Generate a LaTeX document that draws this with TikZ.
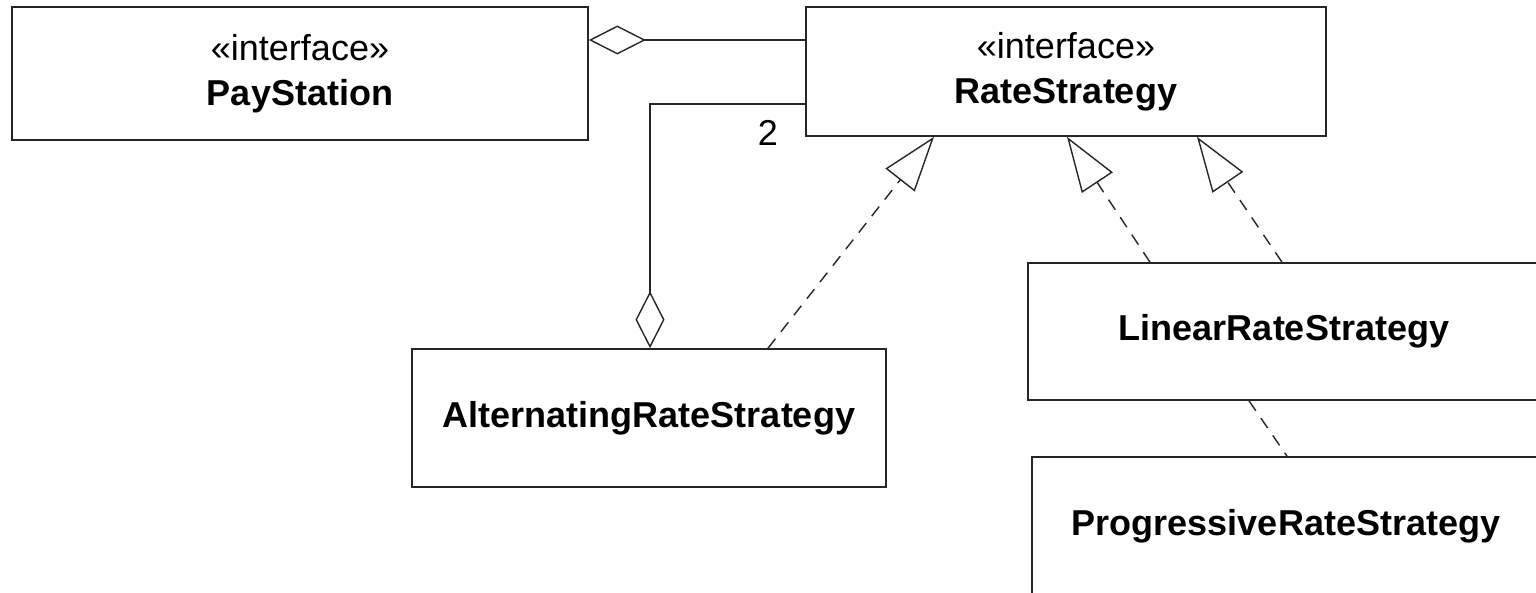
\documentclass[tikz,border=0pt]{standalone}
\usepackage{fontspec}
\setmainfont{Liberation Sans}
\usetikzlibrary{arrows.meta}
\begin{document}
\begin{tikzpicture}[x=1pt,y=-1pt,
  cls/.style={draw=black!85, line width=1.6pt, rectangle, inner sep=0pt, align=center,
    font=\fontsize{36}{45}\selectfont},
  agg/.style={draw=black!85, line width=1.4pt, -{Diamond[open, length=57pt, width=29pt, line width=1.4pt]}},
  real/.style={draw=black!85, line width=1.4pt, dash pattern=on 12pt off 9pt,
    -{Triangle[open, length=55pt, width=37pt, line width=1.4pt]}},
  dep/.style={draw=black!85, line width=1.4pt, dash pattern=on 12pt off 9pt},
  lbl/.style={font=\fontsize{36}{40}\selectfont, inner sep=0pt}]
\useasboundingbox (0,0) rectangle (1536,592);
\clip (0,0) rectangle (1536,592);
\fill[white] (0,0) rectangle (1536,592);
\node[cls, minimum width=576pt, minimum height=133pt] (PS) at (300,73.5)
  {«interface»\\\textbf{PayStation}};
\node[cls, minimum width=520pt, minimum height=129pt] (RS) at (1066,71.5)
  {«interface»\\\textbf{RateStrategy}};
\node[cls, minimum width=474pt, minimum height=138pt] (AR) at (649,418)
  {\textbf{AlternatingRateStrategy}};
\node[cls, minimum width=512pt, minimum height=137pt] (LR) at (1284,331.5)
  {\textbf{LinearRateStrategy}};
\node[cls, minimum width=508pt, minimum height=138pt] (PR) at (1286,526)
  {\textbf{ProgressiveRateStrategy}};
\draw[agg] (RS.west |- 0,40) -- (PS.east |- 0,40);
\draw[agg] (RS.west |- 0,104) -| (AR.north -| 650,0);
\node[lbl] (two) at (768,133) {2};
\draw[real] (AR.north -| 768,0) -- (RS.south -| 934,0);
\draw[real] (LR.north -| 1150,0) -- (RS.south -| 1067,0);
\draw[real] (LR.north -| 1282,0) -- (RS.south -| 1197,0);
\draw[dep] (LR.south -| 1249,0) -- (PR.north -| 1287,0);
\end{tikzpicture}
\end{document}
